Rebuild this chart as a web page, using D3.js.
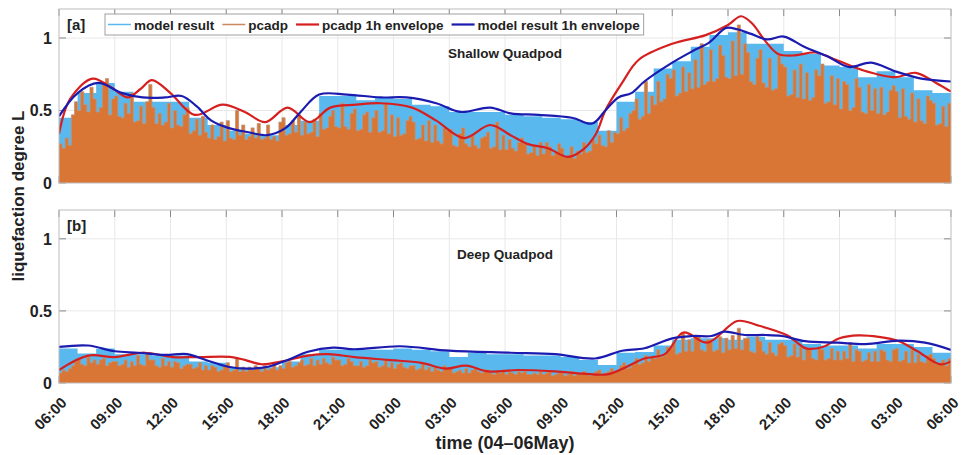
<!DOCTYPE html>
<html>
<head>
<meta charset="utf-8">
<script src="https://cdn.jsdelivr.net/npm/d3@7/dist/d3.min.js"></script>
<style>
  html, body { margin: 0; padding: 0; background: #fff; }
  svg { display: block; font-family: "Liberation Sans", Arial, Helvetica, sans-serif; font-weight: bold; }
</style>
</head>
<body>
<svg id="chart" width="962" height="455"></svg>
<script>
// x axis: hours since 06:00 on 04 May, ticks every 3 h
const tickHours = [0, 3, 6, 9, 12, 15, 18, 21, 24, 27, 30, 33, 36, 39, 42, 45, 48];
const tickLabels = ["06:00", "09:00", "12:00", "15:00", "18:00", "21:00", "00:00", "03:00", "06:00",
                    "09:00", "12:00", "15:00", "18:00", "21:00", "00:00", "03:00", "06:00"];
const yTicks = [0, 0.5, 1];
const yTickLabels = ["0", "0.5", "1"];
const legendNames = ["model result", "pcadp", "pcadp 1h envelope", "model result 1h envelope"];

// ---- [a] Shallow Quadpod ----
// model result, hourly values
const modelA = [0.45, 0.62, 0.69, 0.63, 0.56, 0.56, 0.56, 0.45, 0.40, 0.36, 0.34, 0.33,
                0.40, 0.43, 0.60, 0.60, 0.57, 0.59, 0.58, 0.54, 0.53, 0.49, 0.49, 0.49,
                0.47, 0.46, 0.45, 0.44, 0.42, 0.36, 0.56, 0.63, 0.79, 0.84, 0.94, 1.02,
                1.04, 0.96, 0.96, 0.91, 0.89, 0.81, 0.80, 0.73, 0.77, 0.73, 0.64, 0.62];
// pcadp, 10-minute values (one row of six per hour)
const pcadpA = [
  0.27,0.24,0.31,0.26,0.47,0.56,  0.50,0.63,0.54,0.49,0.66,0.58,  0.49,0.52,0.68,0.72,0.47,0.58,
  0.60,0.46,0.45,0.55,0.48,0.62,  0.42,0.43,0.53,0.41,0.56,0.68,  0.52,0.41,0.48,0.40,0.42,0.55,
  0.38,0.50,0.40,0.39,0.47,0.52,  0.34,0.36,0.44,0.33,0.46,0.35,  0.31,0.40,0.30,0.32,0.42,0.29,
  0.43,0.31,0.30,0.50,0.33,0.40,  0.30,0.32,0.38,0.31,0.41,0.30,  0.31,0.40,0.30,0.32,0.29,0.42,
  0.45,0.33,0.34,0.43,0.35,0.47,  0.33,0.42,0.34,0.35,0.44,0.32,  0.48,0.37,0.38,0.46,0.50,0.39,
  0.38,0.55,0.39,0.37,0.48,0.51,  0.36,0.37,0.47,0.49,0.35,0.45,  0.50,0.35,0.36,0.55,0.34,0.47,
  0.32,0.45,0.33,0.34,0.43,0.46,  0.42,0.30,0.31,0.40,0.29,0.43,  0.28,0.40,0.29,0.27,0.38,0.36,
  0.37,0.26,0.25,0.34,0.38,0.27,  0.25,0.33,0.26,0.24,0.31,0.32,  0.35,0.24,0.25,0.42,0.23,0.33,
  0.23,0.30,0.24,0.22,0.28,0.31,  0.27,0.20,0.21,0.26,0.19,0.28,  0.20,0.28,0.25,0.19,0.21,0.27,
  0.24,0.18,0.19,0.25,0.17,0.22,  0.20,0.28,0.21,0.22,0.30,0.27,  0.33,0.26,0.25,0.36,0.28,0.35,
  0.34,0.45,0.36,0.38,0.48,0.50,  0.58,0.44,0.46,0.70,0.48,0.60,  0.54,0.70,0.56,0.58,0.75,0.72,
  0.78,0.60,0.62,0.80,0.63,0.76,  0.65,0.85,0.66,0.96,0.68,0.70,  0.92,0.70,0.72,0.95,0.88,0.73,
  0.72,0.98,0.74,1.09,0.75,0.96,  0.90,0.70,0.68,0.86,0.92,0.69,  0.66,0.86,0.64,0.65,0.88,0.82,
  0.80,0.60,0.61,0.78,0.59,0.82,  0.58,0.76,0.57,0.59,0.78,0.74,  0.82,0.55,0.56,0.74,0.54,0.72,
  0.51,0.70,0.68,0.50,0.52,0.72,  0.66,0.49,0.48,0.68,0.50,0.65,  0.48,0.66,0.47,0.49,0.64,0.67,
  0.63,0.45,0.65,0.46,0.44,0.62,  0.42,0.58,0.43,0.41,0.60,0.57,  0.55,0.40,0.41,0.53,0.39,0.55
];
const envPcadpAHours = [0, 0.6, 1.8, 2.8, 3.7, 4.4, 5.0, 6.0, 7.3, 8.8, 10.0, 11.1, 12.3, 13.5, 14.6,
                        16.0, 17.3, 19.0, 20.3, 21.8, 23.2, 24.3, 25.2, 26.3, 27.4, 28.2, 28.9, 29.4,
                        30.3, 31.2, 33.0, 34.8, 36.0, 36.7, 37.3, 38.0, 38.7, 39.6, 40.7, 41.8, 43.2,
                        45.0, 46.1, 47.2, 48.0];
const envPcadpA = [0.34, 0.58, 0.72, 0.66, 0.59, 0.65, 0.71, 0.62, 0.47, 0.54, 0.49, 0.42, 0.52, 0.42, 0.52,
                   0.54, 0.55, 0.52, 0.43, 0.31, 0.40, 0.33, 0.27, 0.24, 0.18, 0.23, 0.34, 0.50,
                   0.69, 0.85, 0.96, 1.02, 1.09, 1.15, 1.10, 0.98, 0.89, 0.88, 0.90, 0.85, 0.78,
                   0.73, 0.76, 0.69, 0.63];
const envModelAHours = [0, 1.0, 2.1, 3.4, 4.5, 5.7, 6.6, 7.4, 8.2, 9.1, 10.2, 11.2, 12.2, 13.0, 14.0,
                        15.5, 17.3, 18.7, 20.3, 21.6, 23.2, 24.3, 25.8, 27.6, 28.7, 29.4, 30.1, 30.8,
                        31.5, 33.0, 34.1, 35.0, 35.9, 36.5, 37.2, 38.1, 39.0, 40.1, 41.4, 42.5, 43.7,
                        45.0, 46.4, 48.0];
const envModelA = [0.46, 0.62, 0.69, 0.62, 0.59, 0.59, 0.60, 0.53, 0.43, 0.38, 0.35, 0.33, 0.38, 0.49, 0.61,
                   0.61, 0.59, 0.59, 0.55, 0.49, 0.52, 0.48, 0.47, 0.45, 0.41, 0.50, 0.59, 0.62,
                   0.70, 0.83, 0.91, 0.97, 1.07, 1.06, 1.03, 0.99, 1.01, 0.94, 0.87, 0.80, 0.83,
                   0.77, 0.72, 0.70];

// ---- [b] Deep Quadpod ----
const modelB = [0.24, 0.205, 0.24, 0.20, 0.20, 0.19, 0.19, 0.15, 0.14, 0.11, 0.10, 0.11,
                0.15, 0.20, 0.23, 0.23, 0.23, 0.23, 0.24, 0.23, 0.22, 0.18, 0.21, 0.20,
                0.20, 0.19, 0.19, 0.18, 0.16, 0.125, 0.21, 0.215, 0.26, 0.30, 0.31, 0.31,
                0.30, 0.32, 0.30, 0.30, 0.27, 0.26, 0.26, 0.24, 0.27, 0.27, 0.25, 0.21];
const pcadpB = [
  0.07,0.09,0.08,0.10,0.12,0.15,  0.17,0.13,0.12,0.18,0.14,0.16,  0.13,0.16,0.17,0.12,0.14,0.15,
  0.15,0.12,0.13,0.16,0.11,0.15,  0.12,0.19,0.13,0.12,0.21,0.16,  0.16,0.12,0.11,0.17,0.12,0.15,
  0.11,0.15,0.14,0.10,0.12,0.13,  0.13,0.10,0.11,0.14,0.09,0.12,  0.09,0.12,0.11,0.08,0.09,0.12,
  0.14,0.08,0.09,0.17,0.08,0.11,  0.08,0.11,0.09,0.12,0.10,0.08,  0.12,0.09,0.10,0.13,0.09,0.12,
  0.10,0.14,0.15,0.11,0.12,0.14,  0.16,0.12,0.13,0.17,0.12,0.16,  0.13,0.17,0.14,0.13,0.18,0.16,
  0.16,0.12,0.13,0.17,0.15,0.12,  0.12,0.15,0.11,0.12,0.16,0.14,  0.15,0.11,0.12,0.16,0.11,0.14,
  0.10,0.13,0.14,0.11,0.10,0.12,  0.12,0.09,0.10,0.13,0.09,0.11,  0.08,0.11,0.09,0.08,0.12,0.10,
  0.10,0.07,0.08,0.09,0.07,0.10,  0.07,0.09,0.10,0.08,0.07,0.09,  0.09,0.07,0.06,0.08,0.07,0.09,
  0.06,0.08,0.07,0.06,0.08,0.07,  0.08,0.06,0.06,0.07,0.06,0.08,  0.06,0.07,0.08,0.05,0.06,0.07,
  0.07,0.05,0.06,0.08,0.05,0.07,  0.06,0.08,0.07,0.05,0.06,0.08,  0.09,0.06,0.07,0.08,0.10,0.07,
  0.09,0.12,0.14,0.10,0.11,0.13,  0.17,0.13,0.14,0.19,0.15,0.18,  0.17,0.23,0.18,0.19,0.25,0.24,
  0.28,0.20,0.21,0.35,0.22,0.30,  0.22,0.31,0.32,0.23,0.22,0.30,  0.30,0.22,0.23,0.32,0.21,0.31,
  0.23,0.33,0.24,0.38,0.23,0.31,  0.31,0.22,0.21,0.32,0.29,0.22,  0.20,0.28,0.21,0.19,0.27,0.28,
  0.26,0.18,0.19,0.27,0.18,0.25,  0.16,0.24,0.23,0.17,0.16,0.24,  0.23,0.16,0.17,0.24,0.16,0.22,
  0.16,0.22,0.17,0.28,0.15,0.23,  0.22,0.15,0.16,0.21,0.15,0.22,  0.15,0.23,0.22,0.16,0.15,0.23,
  0.24,0.15,0.16,0.22,0.14,0.23,  0.14,0.20,0.15,0.14,0.19,0.20,  0.17,0.13,0.14,0.16,0.12,0.17
];
const envPcadpBHours = [0, 1.56, 3.0, 4.6, 6.1, 7.5, 9.3, 10.0, 10.9, 12.0, 13.4, 14.5, 15.9, 17.7, 19.5,
                        20.8, 21.9, 23.1, 24.7, 26.7, 28.2, 29.5, 30.5, 31.5, 32.6, 33.6, 34.9, 36.5,
                        37.6, 39.2, 40.2, 41.1, 42.0, 43.0, 44.1, 45.2, 46.2, 47.4, 48.0];
const envPcadpB = [0.09, 0.19, 0.18, 0.21, 0.18, 0.18, 0.18, 0.16, 0.13, 0.15, 0.19, 0.20, 0.18, 0.16, 0.14,
                   0.10, 0.12, 0.08, 0.09, 0.08, 0.065, 0.06, 0.11, 0.17, 0.20, 0.35, 0.28, 0.43,
                   0.40, 0.33, 0.24, 0.25, 0.31, 0.33, 0.32, 0.29, 0.22, 0.13, 0.15];
const envModelBHours = [0, 1.56, 3.0, 4.25, 5.7, 6.9, 7.9, 9.1, 10.2, 11.25, 12.3, 13.4, 14.75, 15.9,
                        18.35, 21.0, 24.3, 26.7, 28.85, 30.3, 31.5, 33.0, 34.1, 35.1, 35.8, 36.9,
                        38.0, 38.9, 40.15, 41.9, 43.4, 45.2, 46.6, 48.0];
const envModelB = [0.25, 0.26, 0.22, 0.21, 0.195, 0.20, 0.16, 0.113, 0.10, 0.113, 0.16, 0.217, 0.245, 0.234,
                   0.255, 0.224, 0.21, 0.20, 0.17, 0.224, 0.241, 0.31, 0.326, 0.326, 0.356, 0.333,
                   0.333, 0.326, 0.29, 0.28, 0.27, 0.294, 0.28, 0.23];

const colors = {
  model: "#59b8ee",
  pcadp: "#da7635",
  pcadpEdge: "#b9967e",
  pcadpLegend: "#c9875c",
  envPcadp: "#d61f1f",
  envModel: "#1b1bb0",
  grid: "#e8e8e8",
  box: "#bcbcbc",
  tick: "#8a8a8a",
  text: "#222"
};

const svg = d3.select("#chart");
const x = d3.scaleLinear().domain([0, 48]).range([59, 951]);

const panels = [
  { id: "a", tag: "[a]", title: "Shallow Quadpod", top: 9, bottom: 183,
    model: modelA, pcadp: pcadpA, xLabels: false,
    envP: [envPcadpAHours, envPcadpA], envM: [envModelAHours, envModelA], legend: true },
  { id: "b", tag: "[b]", title: "Deep Quadpod", top: 210, bottom: 383,
    model: modelB, pcadp: pcadpB, xLabels: true,
    envP: [envPcadpBHours, envPcadpB], envM: [envModelBHours, envModelB], legend: false }
];

panels.forEach(p => {
  const y = d3.scaleLinear().domain([0, 1.2]).range([p.bottom, p.top]);
  const g = svg.append("g");
  const [x0, x1] = x.range();

  g.append("defs").append("clipPath").attr("id", "clip-" + p.id)
    .append("rect").attr("x", x0).attr("y", p.top).attr("width", x1 - x0).attr("height", p.bottom - p.top);

  // grid
  g.append("g").selectAll("line").data(tickHours.slice(1, -1)).join("line")
    .attr("x1", d => x(d)).attr("x2", d => x(d)).attr("y1", p.top).attr("y2", p.bottom)
    .attr("stroke", colors.grid).attr("stroke-width", 1);
  g.append("g").selectAll("line").data(yTicks.slice(1)).join("line")
    .attr("x1", x0).attr("x2", x1).attr("y1", d => y(d)).attr("y2", d => y(d))
    .attr("stroke", colors.grid).attr("stroke-width", 1);

  // inward ticks on all four sides
  const tk = g.append("g").attr("stroke", colors.tick).attr("stroke-width", 1);
  tickHours.forEach(h => {
    tk.append("line").attr("x1", x(h)).attr("x2", x(h)).attr("y1", p.top).attr("y2", p.top + 7);
    tk.append("line").attr("x1", x(h)).attr("x2", x(h)).attr("y1", p.bottom).attr("y2", p.bottom - 7);
  });
  yTicks.forEach(v => {
    tk.append("line").attr("x1", x0).attr("x2", x0 + 7).attr("y1", y(v)).attr("y2", y(v));
    tk.append("line").attr("x1", x1).attr("x2", x1 - 7).attr("y1", y(v)).attr("y2", y(v));
  });

  const data = g.append("g").attr("clip-path", `url(#clip-${p.id})`);

  // model result as hourly steps
  const modelPts = p.model.map((v, i) => [i, v]).concat([[48, p.model[p.model.length - 1]]]);
  data.append("path")
    .attr("d", d3.area().curve(d3.curveStepAfter).x(d => x(d[0])).y0(y(0)).y1(d => y(d[1]))(modelPts))
    .attr("fill", colors.model);

  // pcadp bars: filled steps with a thin edge along their tops
  const step = 48 / p.pcadp.length;
  const barPts = p.pcadp.map((v, i) => [i * step, v]).concat([[48, p.pcadp[p.pcadp.length - 1]]]);
  data.append("path")
    .attr("d", d3.area().curve(d3.curveStepAfter).x(d => x(d[0])).y0(y(0)).y1(d => y(d[1]))(barPts))
    .attr("fill", colors.pcadp);
  data.append("path")
    .attr("d", d3.line().curve(d3.curveStepAfter).x(d => x(d[0])).y(d => y(d[1]))(barPts))
    .attr("fill", "none").attr("stroke", colors.pcadpEdge).attr("stroke-width", 0.8);

  // 1 h envelopes
  const line = d3.line().curve(d3.curveCatmullRom.alpha(0.5)).x(d => x(d[0])).y(d => y(d[1]));
  data.append("path").attr("d", line(p.envP[0].map((h, i) => [h, p.envP[1][i]])))
    .attr("fill", "none").attr("stroke", colors.envPcadp).attr("stroke-width", 2.2);
  data.append("path").attr("d", line(p.envM[0].map((h, i) => [h, p.envM[1][i]])))
    .attr("fill", "none").attr("stroke", colors.envModel).attr("stroke-width", 2.2);

  // box
  g.append("rect").attr("x", x0).attr("y", p.top).attr("width", x1 - x0).attr("height", p.bottom - p.top)
    .attr("fill", "none").attr("stroke", colors.box).attr("stroke-width", 1);

  // y tick labels
  g.append("g").selectAll("text").data(yTicks).join("text")
    .attr("x", 52).attr("y", d => y(d)).attr("dy", "0.36em")
    .attr("text-anchor", "end").attr("font-size", 16).attr("fill", colors.text)
    .text((d, i) => yTickLabels[i]);

  // x tick labels, rotated (lower panel only)
  if (p.xLabels) {
    g.append("g").selectAll("text").data(tickHours).join("text")
      .attr("transform", d => `translate(${x(d) + 5},${p.bottom + 17}) rotate(-45)`)
      .attr("dy", "0.35em").attr("text-anchor", "end").attr("font-size", 15).attr("fill", colors.text)
      .text((d, i) => tickLabels[i]);
  }

  g.append("text").attr("x", 67).attr("y", p.top + 21).attr("font-size", 15).attr("fill", colors.text).text(p.tag);
  g.append("text").attr("x", 505).attr("y", p.top + 49).attr("text-anchor", "middle")
    .attr("font-size", 13.5).attr("fill", colors.text).text(p.title);

  if (p.legend) {
    const lg = g.append("g");
    const box = lg.append("rect").attr("y", 14).attr("height", 21).attr("fill", "#fff")
      .attr("stroke", "#a0a0a0").attr("stroke-width", 1);
    const cols = [colors.model, colors.pcadpLegend, colors.envPcadp, colors.envModel];
    const widths = [1.5, 1.5, 2.2, 2.2];
    let cx = 108;
    legendNames.forEach((name, i) => {
      lg.append("line").attr("x1", cx).attr("x2", cx + 23).attr("y1", 24.5).attr("y2", 24.5)
        .attr("stroke", cols[i]).attr("stroke-width", widths[i]);
      const t = lg.append("text").attr("x", cx + 26).attr("y", 29.5).attr("font-size", 13.5)
        .attr("fill", colors.text).text(name);
      cx = cx + 26 + t.node().getComputedTextLength() + 8;
    });
    box.attr("x", 105).attr("width", cx - 8 + 4 - 105);
  }
});

// shared axis titles
svg.append("text").attr("x", 505).attr("y", 449).attr("text-anchor", "middle")
  .attr("font-size", 18).attr("fill", colors.text).text("time (04–06May)");
svg.append("text").attr("transform", "translate(24,196) rotate(-90)").attr("text-anchor", "middle")
  .attr("font-size", 17).attr("fill", colors.text).text("liquefaction degree L");
</script>
</body>
</html>
